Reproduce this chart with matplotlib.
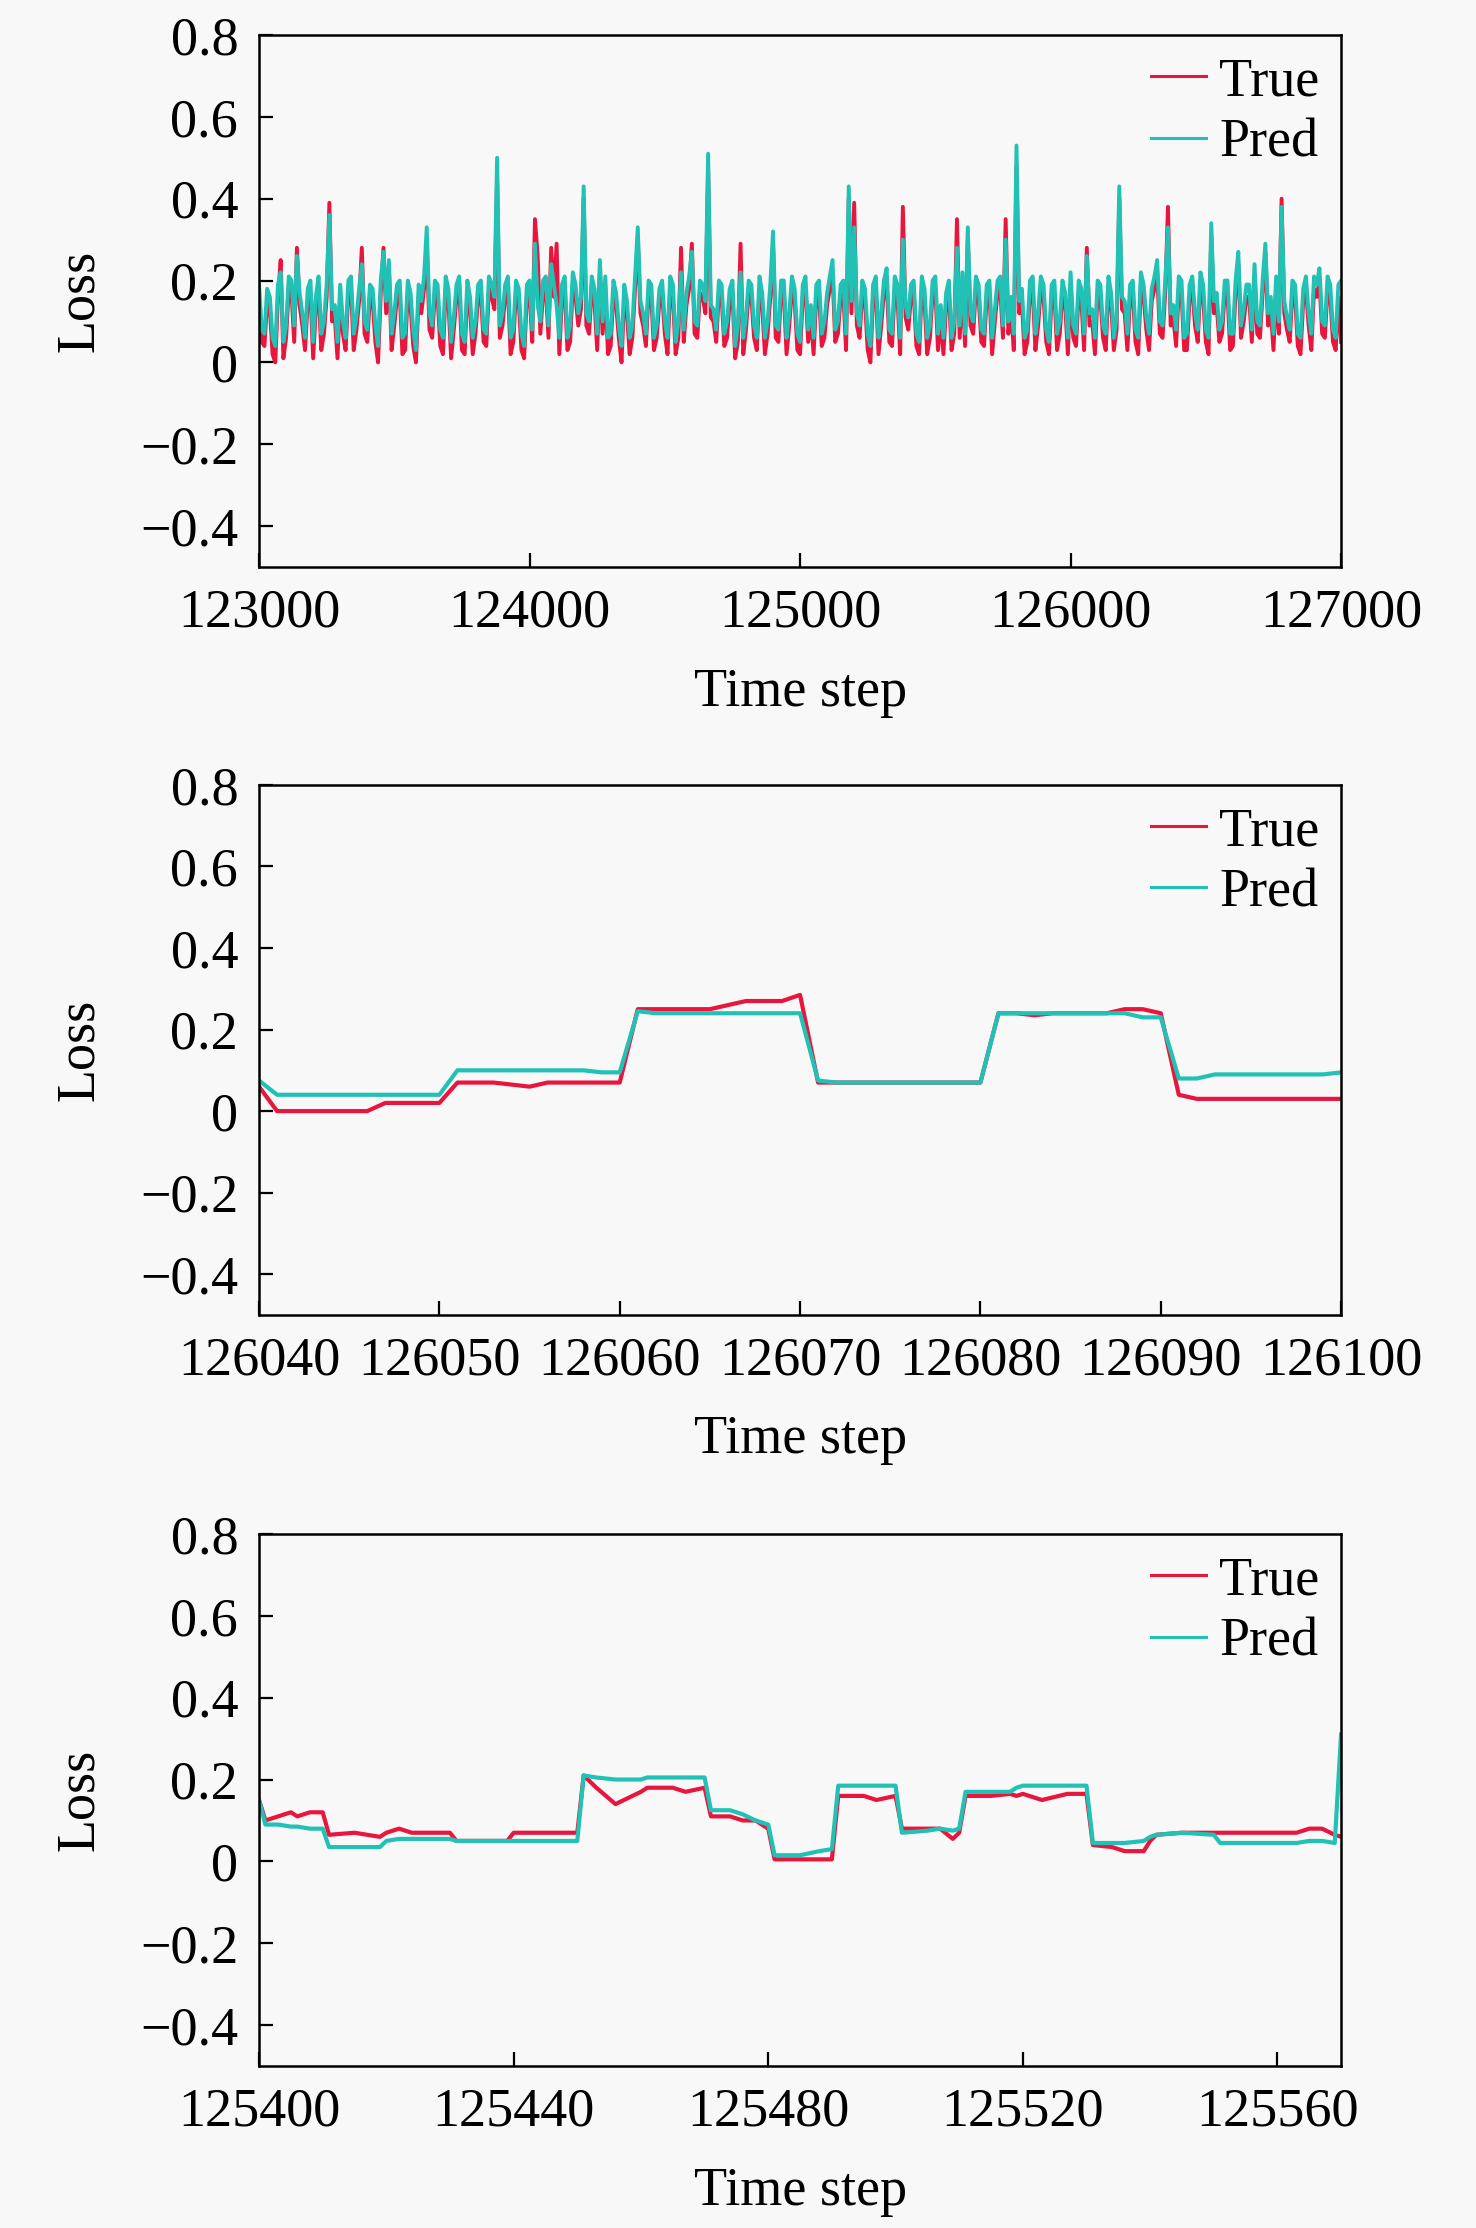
import matplotlib
matplotlib.use("Agg")
import matplotlib.pyplot as plt
from matplotlib.ticker import FuncFormatter

# -----------------------------
# data
# -----------------------------
# panel 1: values at 123000, 123020, ..., 127000
true1 = [
    .16, .04, .13, .00, .25, .06, .17, .28, .09, .15,
    .01, .18, .07, .39, .11, .16, .03, .18, .08, .28,
    .05, .15, .00, .28, .23, .09, .17, .03, .14, .00,
    .12, .29, .06, .16, .02, .15, .08, .18, .02, .13,
    .07, .17, .04, .16, .45, .09, .18, .05, .15, .01,
    .17, .35, .07, .18, .28, .29, .16, .03, .19, .09,
    .40, .07, .15, .22, .18, .04, .14, .00, .12, .06,
    .30, .09, .17, .03, .15, .07, .18, .02, .28, .14,
    .29, .06, .16, .47, .10, .17, .04, .15, .01, .29,
    .08, .16, .03, .14, .07, .29, .05, .17, .09, .15,
    .02, .18, .11, .16, .04, .14, .22, .07, .17, .40,
    .39, .06, .15, .00, .18, .09, .20, .04, .16, .38,
    .08, .17, .02, .15, .06, .18, .11, .14, .03, .35,
    .19, .30, .07, .16, .04, .17, .10, .18, .35, .13,
    .48, .15, .05, .18, .09, .16, .02, .17, .07, .14,
    .19, .04, .15, .28, .10, .17, .06, .18, .03, .40,
    .12, .16, .05, .19, .08, .15, .22, .06, .38, .11,
    .18, .03, .16, .09, .19, .05, .31, .14, .07, .17,
    .04, .24, .10, .16, .21, .06, .27, .13, .18, .40,
    .08, .17, .04, .15, .09, .18, .20, .06, .16, .03,
    .05,
]
# values at 123010, 123030, ..., 126990
true1_mid = [
    .05, .15, .02, .16, .01, .18, .05, .14, .03, .17,
    .13, .03, .16, .10, .01, .07, .17, .03, .15, .07,
    .16, .05, .17, .12, .03, .16, .02, .17, .04, .16,
    .18, .08, .17, .04, .18, .01, .16, .03, .17, .02,
    .16, .05, .18, .13, .06, .16, .02, .17, .03, .16,
    .05, .26, .17, .06, .16, .02, .18, .05, .16, .13,
    .09, .18, .03, .07, .02, .17, .06, .16, .02, .18,
    .12, .04, .16, .06, .17, .02, .16, .06, .05, .18,
    .07, .17, .12, .11, .05, .16, .06, .17, .05, .02,
    .17, .06, .18, .02, .16, .06, .17, .02, .18, .03,
    .16, .05, .02, .17, .06, .18, .05, .16, .03, .12,
    .09, .17, .03, .16, .02, .17, .05, .18, .02, .11,
    .16, .04, .18, .02, .17, .03, .02, .17, .07, .06,
    .04, .09, .18, .05, .16, .02, .17, .06, .07, .03,
    .12, .02, .17, .03, .18, .05, .16, .03, .17, .02,
    .06, .17, .03, .09, .02, .16, .03, .14, .08, .13,
    .03, .17, .02, .16, .03, .18, .07, .17, .09, .04,
    .17, .03, .18, .05, .16, .02, .12, .05, .17, .03,
    .17, .06, .16, .05, .07, .17, .09, .03, .07, .12,
    .05, .16, .02, .18, .03, .16, .07, .18, .05, .16,
]
pred1 = [
    .19, .07, .16, .04, .22, .09, .20, .26, .12, .18,
    .05, .21, .10, .36, .14, .19, .06, .21, .11, .24,
    .08, .18, .04, .27, .25, .12, .20, .07, .17, .03,
    .15, .33, .09, .19, .06, .18, .11, .21, .05, .16,
    .10, .20, .07, .19, .50, .12, .21, .08, .18, .04,
    .20, .29, .10, .21, .24, .14, .19, .06, .22, .12,
    .43, .10, .18, .25, .21, .07, .17, .04, .15, .09,
    .33, .12, .20, .06, .18, .10, .21, .05, .22, .17,
    .27, .09, .19, .51, .13, .20, .07, .18, .04, .22,
    .11, .19, .06, .17, .10, .32, .08, .20, .12, .18,
    .05, .21, .14, .19, .07, .17, .25, .10, .20, .43,
    .33, .09, .18, .04, .21, .12, .23, .07, .19, .30,
    .11, .20, .05, .18, .09, .21, .14, .17, .06, .28,
    .22, .33, .10, .19, .07, .20, .13, .21, .30, .16,
    .53, .18, .08, .21, .12, .19, .05, .20, .10, .17,
    .22, .07, .18, .26, .13, .20, .09, .21, .06, .43,
    .15, .19, .08, .22, .11, .18, .25, .09, .33, .14,
    .21, .06, .19, .12, .22, .08, .34, .17, .10, .20,
    .07, .27, .13, .19, .24, .09, .29, .16, .21, .38,
    .11, .20, .07, .18, .12, .21, .23, .09, .19, .06,
    .20,
]
pred1_mid = [
    .08, .18, .06, .19, .05, .21, .09, .17, .06, .20,
    .16, .07, .19, .13, .05, .10, .20, .07, .18, .10,
    .19, .09, .20, .15, .07, .19, .06, .20, .08, .19,
    .21, .12, .20, .08, .21, .05, .19, .07, .20, .06,
    .19, .08, .21, .16, .09, .19, .06, .20, .07, .19,
    .08, .14, .20, .09, .19, .06, .21, .09, .19, .16,
    .12, .21, .07, .10, .06, .20, .09, .19, .06, .21,
    .15, .07, .19, .09, .20, .06, .19, .10, .08, .21,
    .10, .20, .15, .14, .08, .19, .10, .20, .09, .06,
    .20, .09, .21, .06, .19, .09, .20, .06, .21, .07,
    .19, .08, .06, .20, .10, .21, .08, .19, .07, .15,
    .12, .20, .07, .19, .06, .20, .08, .21, .06, .14,
    .19, .07, .21, .06, .20, .07, .06, .20, .10, .09,
    .07, .12, .21, .08, .19, .06, .20, .09, .10, .07,
    .15, .06, .20, .07, .21, .08, .19, .07, .20, .06,
    .09, .20, .07, .12, .06, .19, .07, .17, .11, .16,
    .07, .20, .06, .19, .07, .21, .10, .20, .12, .08,
    .20, .07, .21, .08, .19, .06, .15, .08, .20, .07,
    .20, .09, .19, .08, .10, .20, .12, .07, .10, .15,
    .08, .19, .06, .21, .07, .19, .10, .21, .08, .19,
]


def merge(main, mid):
    out = []
    for a, b in zip(main[:-1], mid):
        out += [a, b]
    return out + [main[-1]]


steps1 = list(range(123000, 127001, 10))
true1_all = merge(true1, true1_mid)
pred1_all = merge(pred1, pred1_mid)

# panel 2: every step from 126040 to 126100
steps2 = list(range(126040, 126101))
true2 = [
    .06, .00, .00, .00, .00, .00, .00, .02, .02, .02,
    .02, .07, .07, .07, .065, .06, .07, .07, .07, .07,
    .07, .25, .25, .25, .25, .25, .26, .27, .27, .27,
    .285, .07, .07, .07, .07, .07, .07, .07, .07, .07,
    .07, .24, .24, .235, .24, .24, .24, .24, .25, .25,
    .24, .04, .03, .03, .03, .03, .03, .03, .03, .03,
    .03,
]
pred2 = [
    .075, .04, .04, .04, .04, .04, .04, .04, .04, .04,
    .04, .10, .10, .10, .10, .10, .10, .10, .10, .095,
    .095, .245, .24, .24, .24, .24, .24, .24, .24, .24,
    .24, .075, .07, .07, .07, .07, .07, .07, .07, .07,
    .07, .24, .24, .24, .24, .24, .24, .24, .24, .23,
    .23, .08, .08, .09, .09, .09, .09, .09, .09, .09,
    .095,
]

# panel 3: change points between 125400 and 125570
steps3 = [
    125400, 125401, 125403, 125405, 125406, 125408, 125410, 125411, 125415, 125419,
    125420, 125422, 125424, 125430, 125431, 125435, 125439, 125440, 125445, 125450,
    125451, 125453, 125456, 125458, 125460, 125461, 125465, 125467, 125470, 125471,
    125474, 125476, 125478, 125480, 125481, 125485, 125488, 125490, 125491, 125495,
    125497, 125500, 125501, 125505, 125507, 125509, 125510, 125511, 125515, 125518,
    125519, 125520, 125523, 125527, 125530, 125531, 125534, 125536, 125539, 125540,
    125541, 125545, 125550, 125551, 125555, 125560, 125563, 125565, 125567, 125569,
    125570,
]
true3 = [
    .15, .10, .11, .12, .11, .12, .12, .065, .07, .06,
    .07, .08, .07, .07, .05, .05, .05, .07, .07, .07,
    .21, .18, .14, .155, .17, .18, .18, .17, .18, .11,
    .11, .10, .10, .08, .005, .005, .005, .005, .16, .16,
    .15, .16, .08, .08, .08, .055, .07, .16, .16, .165,
    .16, .165, .15, .165, .165, .04, .035, .025, .025, .05,
    .065, .07, .07, .07, .07, .07, .07, .08, .08, .065,
    .06,
]
pred3 = [
    .15, .09, .09, .085, .085, .08, .08, .035, .035, .035,
    .05, .055, .055, .055, .05, .05, .05, .05, .05, .05,
    .21, .205, .20, .20, .20, .205, .205, .205, .205, .125,
    .125, .115, .10, .09, .015, .015, .025, .03, .185, .185,
    .185, .185, .07, .075, .08, .075, .08, .17, .17, .17,
    .18, .185, .185, .185, .185, .045, .045, .045, .05, .06,
    .065, .07, .065, .045, .045, .045, .045, .05, .05, .045,
    .31,
]

xlims = [(123000, 127000), (126040, 126100), (125400, 125570)]
xticks = [
    list(range(123000, 127001, 1000)),
    list(range(126040, 126101, 10)),
    list(range(125400, 125561, 40)),
]
yticks = [-0.4, -0.2, 0, 0.2, 0.4, 0.6, 0.8]

# -----------------------------
# style
# -----------------------------
plt.rcParams["font.family"] = ["Liberation Serif", "DejaVu Serif"]
plt.rcParams["font.size"] = 39
bg = "#f8f8f8"
red = "#e8163c"
teal = "#22c1b5"


def fmt_y(v, pos):
    if abs(v) < 1e-9:
        return "0"
    return f"{v:.1f}".replace("-", "\u2212")


fig = plt.figure(figsize=(14.76, 22.28), dpi=100, facecolor=bg)
bottoms = [0.7455, 0.4098, 0.0727]
heights = [0.2388, 0.2379, 0.2388]

series = [
    (steps1, true1_all, pred1_all, 2.8),
    (steps2, true2, pred2, 3.0),
    (steps3, true3, pred3, 3.0),
]

for i, (x, yt, yp, lw) in enumerate(series):
    ax = fig.add_axes([0.1755, bottoms[i], 0.7331, heights[i]], facecolor=bg)
    ax.plot(x, yt, color=red, lw=lw, label="True")
    ax.plot(x, yp, color=teal, lw=lw, label="Pred")
    ax.set_xlim(*xlims[i])
    ax.set_ylim(-0.5, 0.8)
    ax.set_xticks(xticks[i])
    ax.set_yticks(yticks)
    ax.yaxis.set_major_formatter(FuncFormatter(fmt_y))
    ax.tick_params(direction="in", length=10, width=1.6)
    ax.tick_params(axis="x", pad=15)
    ax.tick_params(axis="y", pad=15)
    for s in ax.spines.values():
        s.set_linewidth(1.8)
    ax.set_xlabel("Time step")
    ax.set_ylabel("Loss")
    ax.xaxis.set_label_coords(0.5, -0.188)
    ax.yaxis.set_label_coords(-0.142, 0.5)
    leg = ax.legend(loc="upper right", frameon=False, handlelength=1.0,
                    handletextpad=0.25, labelspacing=0.2, borderaxespad=0.0,
                    fontsize=39)
    for h in leg.get_lines():
        h.set_linewidth(2.2)

plt.savefig("out.png", dpi=100, facecolor=bg)
